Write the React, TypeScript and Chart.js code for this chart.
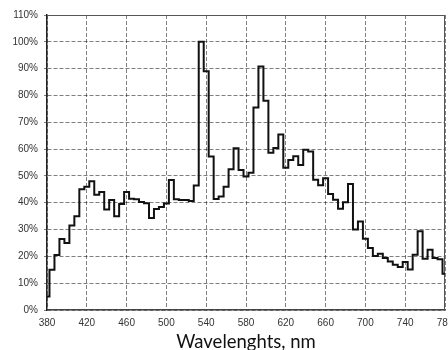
import React, { useEffect, useRef } from "react";
import { Chart, registerables } from "chart.js";

Chart.register(...registerables);

const wavelengths = [
  380, 385, 390, 395, 400, 405, 410, 415, 420, 425, 430, 435, 440, 445, 450, 455,
  460, 465, 470, 475, 480, 485, 490, 495, 500, 505, 510, 515, 520, 525, 530, 535,
  540, 545, 550, 555, 560, 565, 570, 575, 580, 585, 590, 595, 600, 605, 610, 615,
  620, 625, 630, 635, 640, 645, 650, 655, 660, 665, 670, 675, 680, 685, 690, 695,
  700, 705, 710, 715, 720, 725, 730, 735, 740, 745, 750, 755, 760, 765, 770, 775,
  780,
];

const intensity = [
  5, 15, 20.5, 26.5, 25, 31.5, 35, 45, 46, 48, 43, 44, 37.5, 41, 35, 39.5,
  44, 41.5, 41.3, 40.3, 39.8, 34.3, 37.7, 38.4, 39.7, 48.5, 41.3, 41, 41, 40.6, 46.4, 100,
  89, 57.2, 41.4, 42.3, 46, 52.5, 60.3, 52.2, 49.8, 51.2, 75.5, 90.8, 78, 58.6, 60.4, 65.4,
  53, 55.9, 57.3, 54.1, 59.8, 59.1, 48.6, 46.5, 49.1, 43.3, 41.1, 37.8, 40.2, 47, 30, 33,
  26.6, 23.1, 20.1, 21, 19.4, 18.1, 16.9, 16, 17.9, 15.1, 20.6, 29.4, 19.1, 22.5, 19.4, 18.9,
  13.5,
];

const xTickValues = [380, 420, 460, 500, 540, 580, 620, 660, 700, 740, 780];
const yTickValues = [0, 10, 20, 30, 40, 50, 60, 70, 80, 90, 100, 110];
const xAxisTitle = "Wavelenghts, nm";

const framePlugin = {
  id: "frame",
  beforeDatasetsDraw(chart: any) {
    const { ctx, chartArea: a } = chart;
    ctx.save();
    ctx.strokeStyle = "#555";
    ctx.lineWidth = 1;
    ctx.beginPath();
    ctx.moveTo(a.left, a.top + 0.5);
    ctx.lineTo(a.right - 0.5, a.top + 0.5);
    ctx.lineTo(a.right - 0.5, a.bottom);
    ctx.stroke();
    ctx.restore();
  },
};

export default function App() {
  const ref = useRef<HTMLCanvasElement | null>(null);

  useEffect(() => {
    if (!ref.current) return;
    const chart = new Chart(ref.current, {
      type: "line",
      data: {
        datasets: [
          {
            data: wavelengths.map((w, i) => ({ x: w, y: intensity[i] })),
            stepped: "middle",
            borderColor: "#111",
            borderWidth: 2,
            pointRadius: 0,
            fill: false,
          },
        ],
      },
      options: {
        animation: false,
        responsive: true,
        maintainAspectRatio: false,
        layout: { padding: { top: 15, left: 0, right: 3, bottom: 0 } },
        plugins: { legend: { display: false }, tooltip: { enabled: false } },
        scales: {
          x: {
            type: "linear",
            min: 380,
            max: 780,
            afterBuildTicks: (scale: any) => {
              scale.ticks = xTickValues.map((v) => ({ value: v }));
            },
            afterFit: (scale: any) => {
              scale.height = 40;
              scale.paddingLeft = 0;
              scale.paddingRight = 0;
            },
            grid: {
              color: "rgba(0,0,0,0.5)",
              lineWidth: 1,
              drawTicks: false,
            },
            border: { display: true, color: "#444", width: 1.5, dash: [4, 2] },
            ticks: {
              color: "#333",
              padding: 7,
              maxRotation: 0,
              autoSkip: false,
              font: { family: "'Liberation Sans', Arial, sans-serif", size: 10 },
            },
            title: {
              display: true,
              text: xAxisTitle,
              color: "#111",
              font: { family: "Lato, 'Open Sans', sans-serif", size: 18.5 },
              padding: { top: 0, bottom: -3.5 },
            },
          },
          y: {
            type: "linear",
            min: 0,
            max: 110,
            afterBuildTicks: (scale: any) => {
              scale.ticks = yTickValues.map((v) => ({ value: v }));
            },
            afterFit: (scale: any) => {
              scale.width = 47;
              scale.paddingTop = 0;
              scale.paddingBottom = 0;
            },
            grid: {
              color: "rgba(0,0,0,0.5)",
              lineWidth: 1,
              drawTicks: true,
              tickLength: 3,
              tickColor: "rgba(0,0,0,0.5)",
            },
            border: { display: true, color: "#222", width: 1.5, dash: [4, 2] },
            ticks: {
              color: "#333",
              padding: 6,
              font: { family: "'Liberation Sans', Arial, sans-serif", size: 10 },
              callback: (v: any) => `${v}%`,
            },
          },
        },
      },
      plugins: [framePlugin],
    } as any);
    return () => chart.destroy();
  }, []);

  return (
    <div style={{ position: "absolute", left: 0, top: 0, width: 448, height: 350 }}>
      <canvas ref={ref} />
    </div>
  );
}
